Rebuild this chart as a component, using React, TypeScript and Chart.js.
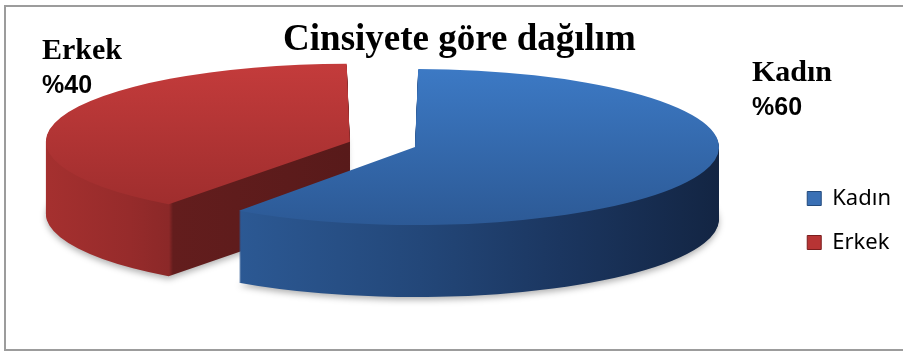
import React, { useEffect, useRef } from "react";
import { Chart, registerables } from "chart.js";

Chart.register(...registerables);

// ---- data ----
const categories = ["Kadın", "Erkek"];
const values = [60, 40];
const titleText = "Cinsiyete göre dağılım";

// ---- styles ----
const legendColors = ["#3a70b5", "#b73434"];
const legendBorders = ["#234a7c", "#7a1e1e"];
const explodeOffsets = [80, 194];
const PIE_RADIUS = 284;

const W = 903;
const H = 351;
const PIE_X = 396;
const PIE_Y = 145.5;
const K = 0.2566;
const DEPTH = 72;

const TOP_GRAD: [number, string, number, string][] = [
  [70, "#3c79c4", 227, "#2c5995"],
  [66, "#c33b3b", 222, "#9b2c2c"],
];
const SIDE_STOPS: [number, string][][] = [
  [[236, "#2c5994"], [420, "#234779"], [560, "#1b3660"], [719, "#132543"]],
  [[46, "#a5302f"], [130, "#962b2b"], [169, "#8b2828"], [173, "#631d1d"], [350, "#581a1a"]],
];
const LABEL_POS: [number, number, number][] = [
  [752, 81, 115],
  [42, 59, 93],
];

const framePlugin = {
  id: "frame",
  beforeDraw(chart: any) {
    const ctx = chart.ctx;
    ctx.save();
    ctx.fillStyle = "#ffffff";
    ctx.fillRect(0, 0, W, H);
    ctx.fillStyle = "#9c9c9c";
    ctx.fillRect(4, 5, W - 4, 2);
    ctx.fillRect(4, 5, 2, H - 6);
    ctx.fillRect(4, H - 2, W - 4, 2);
    ctx.restore();
  },
};

const pie3dPlugin = {
  id: "pie3d",
  beforeDatasetsDraw(chart: any) {
    const meta = chart.getDatasetMeta(0);
    const ctx = chart.ctx;
    const cx = meta.data[0].x;
    const cy = meta.data[0].y;
    const mid = (a: any) => Math.sin((a.startAngle + a.endAngle) / 2);
    const order = meta.data
      .map((a: any, i: number) => ({ a, i }))
      .sort((p: any, q: any) => mid(p.a) - mid(q.a));
    ctx.save();
    ctx.translate(PIE_X, PIE_Y);
    ctx.scale(1, K);
    ctx.translate(-cx, -cy);
    for (const { a, i } of order) {
      const half = (a.startAngle + a.endAngle) / 2;
      const off = (a.options.offset || 0) / 4;
      const tx = Math.cos(half) * off;
      const ty = Math.sin(half) * off;
      const toAx = (sx: number) => sx - PIE_X + cx - tx;
      const toAy = (sy: number) => (sy - PIE_Y) / K + cy - ty;
      const stops = SIDE_STOPS[i];
      const x0 = stops[0][0];
      const x1 = stops[stops.length - 1][0];
      const side = ctx.createLinearGradient(toAx(x0), 0, toAx(x1), 0);
      stops.forEach(([x, c]) => side.addColorStop((x - x0) / (x1 - x0), c));
      const orig = a.options;
      a.options = { ...orig, backgroundColor: side, borderWidth: 0 };
      for (let d = DEPTH; d > 0; d -= 1) {
        ctx.save();
        ctx.translate(0, d / K);
        if (d === DEPTH) {
          ctx.shadowColor = "rgba(0,0,0,0.3)";
          ctx.shadowBlur = 6;
          ctx.shadowOffsetY = 3;
        }
        a.draw(ctx);
        ctx.restore();
      }
      const tg = TOP_GRAD[i];
      const top = ctx.createLinearGradient(0, toAy(tg[0]), 0, toAy(tg[2]));
      top.addColorStop(0, tg[1]);
      top.addColorStop(1, tg[3]);
      a.options = { ...orig, backgroundColor: top, borderWidth: 0 };
      a.draw(ctx);
      a.options = orig;
    }
    ctx.restore();
    return false;
  },
};

const labelPlugin = {
  id: "sliceLabels",
  afterDraw(chart: any) {
    const ctx = chart.ctx;
    ctx.save();
    ctx.fillStyle = "#000";
    ctx.textAlign = "left";
    ctx.textBaseline = "alphabetic";
    categories.forEach((c, i) => {
      const [x, y1, y2] = LABEL_POS[i];
      ctx.font = 'bold 30px "Liberation Serif"';
      ctx.fillText(c, x, y1);
      ctx.font = 'bold 25px "Liberation Sans"';
      ctx.fillText("%" + values[i], x, y2);
    });
    ctx.restore();
  },
};

export default function App() {
  const ref = useRef<HTMLCanvasElement | null>(null);
  useEffect(() => {
    if (!ref.current) return;
    const chart = new Chart(ref.current, {
      type: "pie",
      data: {
        labels: categories,
        datasets: [
          {
            data: values,
            backgroundColor: legendColors,
            borderColor: legendBorders,
            borderWidth: 1,
            offset: explodeOffsets,
            radius: PIE_RADIUS,
          } as any,
        ],
      },
      options: {
        responsive: false,
        animation: false,
        events: [],
        layout: { padding: { left: 18, right: 2, top: 0, bottom: 0 } },
        plugins: {
          title: {
            display: true,
            text: titleText,
            color: "#000",
            font: { family: "Liberation Serif", size: 37, weight: "bold" },
            padding: { top: 18, bottom: 27 },
          },
          legend: {
            position: "right",
            title: {
              display: true,
              text: "",
              font: { size: 10 },
              padding: { top: 78, bottom: 0 },
            },
            labels: {
              boxWidth: 14,
              boxHeight: 14,
              padding: 22,
              color: "#000",
              font: { family: "Noto Sans", size: 22 },
            },
          },
          tooltip: { enabled: false },
        },
      } as any,
      plugins: [framePlugin, pie3dPlugin, labelPlugin],
    });
    return () => chart.destroy();
  }, []);
  return (
    <div style={{ position: "absolute", left: 0, top: 0, width: W, height: H }}>
      <canvas ref={ref} width={W} height={H} style={{ display: "block" }} />
    </div>
  );
}
